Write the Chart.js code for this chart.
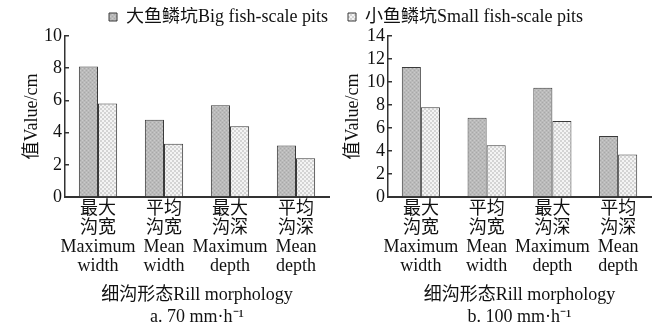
<!DOCTYPE html>
<html>
<head>
<meta charset="utf-8">
<script src="https://cdn.jsdelivr.net/npm/chart.js@4.4.1/dist/chart.umd.min.js"></script>
<style>
  html, body { margin: 0; padding: 0; background: #fff; width: 660px; height: 326px; overflow: hidden; }
  #wrap { position: relative; width: 660px; height: 326px; }
  #c1 { position: absolute; left: 0; top: 0; width: 330px; height: 326px; }
  #c2 { position: absolute; left: 340px; top: 0; width: 320px; height: 326px; }
</style>
</head>
<body>
<div id="wrap">
  <canvas id="c1" width="330" height="326"></canvas>
  <canvas id="c2" width="320" height="326"></canvas>
</div>
<script>
// Rill morphology categories (Chinese + English, one line per entry)
const categories = [
  ["最大", "沟宽", "Maximum", "width"],
  ["平均", "沟宽", "Mean", "width"],
  ["最大", "沟深", "Maximum", "depth"],
  ["平均", "沟深", "Mean", "depth"]
];
const seriesNames = ["大鱼鳞坑Big fish-scale pits", "小鱼鳞坑Small fish-scale pits"];

// Rainfall intensity 70 mm·h⁻¹ (cm)
const bigPits70 = [8.1, 4.8, 5.7, 3.2];
const smallPits70 = [5.8, 3.3, 4.4, 2.4];

// Rainfall intensity 100 mm·h⁻¹ (cm)
const bigPits100 = [11.3, 6.9, 9.5, 5.3];
const smallPits100 = [7.8, 4.5, 6.6, 3.7];

const yTicks70 = [0, 2, 4, 6, 8, 10];
const yTicks100 = [0, 2, 4, 6, 8, 10, 12, 14];

const xTitle70 = ["细沟形态Rill morphology", "a. 70 mm·h⁻¹"];
const xTitle100 = ["细沟形态Rill morphology", "b. 100 mm·h⁻¹"];
const yTitle = "值Value/cm";

const FONT = "'Liberation Serif', 'Times New Roman', 'Noto Sans CJK SC', serif";

// Stippled fills for the two bar series
function makePattern(kind) {
  const c = document.createElement('canvas');
  c.width = 4; c.height = 4;
  const g = c.getContext('2d');
  if (kind === 'big') {
    g.fillStyle = '#bababa'; g.fillRect(0, 0, 4, 4);
    g.fillStyle = '#a8a8a8'; g.fillRect(0, 0, 1, 1); g.fillRect(2, 2, 1, 1);
    g.fillStyle = '#cacaca'; g.fillRect(2, 0, 1, 1); g.fillRect(0, 2, 1, 1);
  } else {
    g.fillStyle = '#f4f4f4'; g.fillRect(0, 0, 4, 4);
    g.fillStyle = '#d4d4d4'; g.fillRect(0, 0, 2, 2); g.fillRect(2, 2, 2, 2);
  }
  return g.createPattern(c, 'repeat');
}
const bigFill = makePattern('big');
const smallFill = makePattern('small');

function buildChart(canvasId, bigVals, smallVals, yTicks, xTitle, opts) {
  const yMax = yTicks[yTicks.length - 1];
  const step = yTicks[1] - yTicks[0];
  return new Chart(document.getElementById(canvasId), {
    type: 'bar',
    data: {
      labels: categories,
      datasets: [
        { label: seriesNames[0], data: bigVals, backgroundColor: bigFill, borderColor: '#3a3a3a', borderWidth: 1,
          categoryPercentage: 0.58, barPercentage: 1.0 },
        { label: seriesNames[1], data: smallVals, backgroundColor: smallFill, borderColor: '#3a3a3a', borderWidth: 1,
          categoryPercentage: 0.58, barPercentage: 1.0 }
      ]
    },
    options: {
      responsive: false,
      animation: false,
      devicePixelRatio: 1,
      layout: { padding: opts.padding },
      plugins: {
        tooltip: { enabled: false },
        legend: {
          display: true,
          position: 'top',
          align: opts.legendAlign,
          labels: {
            filter: (item) => item.datasetIndex === opts.legendIndex,
            boxWidth: 8,
            boxHeight: 8,
            padding: 1,
            color: '#111',
            font: { family: FONT, size: 18 }
          }
        }
      },
      scales: {
        x: {
          grid: { display: false, drawTicks: false },
          border: { display: true, color: '#333', width: 2 },
          ticks: { color: '#111', padding: 3, maxRotation: 0, autoSkip: false,
                   font: { family: FONT, size: 18, lineHeight: 1.05 } },
          title: { display: true, text: xTitle, color: '#111', padding: { top: 0, bottom: -2 },
                   font: { family: FONT, size: 18, lineHeight: 1.222 } },
          afterFit: (s) => { s.height = 129; }
        },
        y: {
          min: 0, max: yMax,
          grid: { display: true, drawOnChartArea: false, drawTicks: true, tickLength: -4, color: '#333', lineWidth: 1.5 },
          border: { display: true, color: '#333', width: 1.5 },
          ticks: { stepSize: step, autoSkip: false, color: '#111', padding: 7,
                   font: { family: FONT, size: 18 } },
          afterBuildTicks: (s) => { s.ticks = yTicks.map(v => ({ value: v })); },
          title: { display: true, text: yTitle, color: '#111', padding: { top: opts.yTitlePad, bottom: 0 },
                   font: { family: FONT, size: 18, lineHeight: 1.2 } },
          afterFit: (s) => { s.width = opts.yWidth; }
        }
      }
    }
  });
}

buildChart('c1', bigPits70, smallPits70, yTicks70, xTitle70, {
  padding: { top: 7, right: 1, left: 0, bottom: 0 },
  legendAlign: 'end', legendIndex: 0, yTitlePad: 21, yWidth: 65
});
buildChart('c2', bigPits100, smallPits100, yTicks100, xTitle100, {
  padding: { top: 7, right: 9, left: 7, bottom: 0 },
  legendAlign: 'start', legendIndex: 1, yTitlePad: -5, yWidth: 41
});
</script>
</body>
</html>
